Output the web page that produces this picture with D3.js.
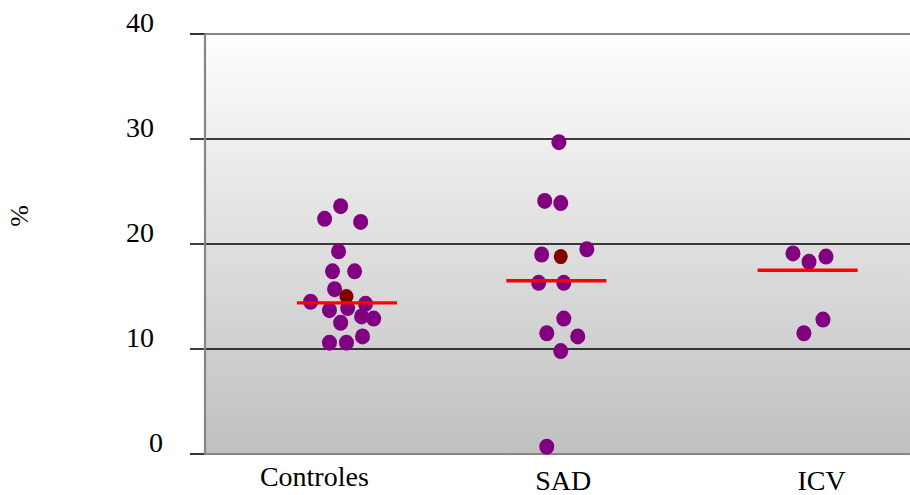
<!DOCTYPE html>
<html>
<head>
<meta charset="utf-8">
<script src="https://cdn.jsdelivr.net/npm/d3@7"></script>
<style>
  body { margin: 0; background: #fff; }
  svg { display: block; font-family: "Liberation Serif", "Times New Roman", serif; }
</style>
</head>
<body>
<div class="chart"></div>
<script>
// Data

var categories = ["Controles", "SAD", "ICV"];
var label_x = [0.87, 1.94, 3.05];

// individual values (x = jittered position, y = %)
var controles_x = [0.983, 0.914, 1.069, 0.974, 0.948, 1.043, 0.957, 0.854, 0.935, 1.013, 1.090, 1.073, 1.125, 0.983, 1.077, 0.935, 1.008];
var controles_y = [23.6, 22.4, 22.1, 19.3, 17.4, 17.4, 15.7, 14.5, 13.7, 13.9, 14.3, 13.1, 12.9, 12.5, 11.2, 10.6, 10.6];

var sad_x = [1.921, 1.860, 1.929, 1.847, 2.041, 1.834, 1.942, 1.942, 1.869, 2.002, 1.929, 1.869];
var sad_y = [29.7, 24.1, 23.9, 19.0, 19.5, 16.3, 16.3, 12.9, 11.5, 11.2, 9.8, 0.7];

var icv_x = [2.927, 2.996, 3.069, 3.056, 2.974];
var icv_y = [19.1, 18.3, 18.8, 12.8, 11.5];

// group means (dark points)
var mean_x = [1.008, 1.929];
var mean_y = [15.0, 18.8];

// group medians (red bars)
var median_x = [1.01, 1.91, 2.99];
var median_y = [14.4, 16.5, 17.5];

var y_ticks = [0, 10, 20, 30, 40];

// ---------------------------------------------------------

var width = 910;
var height = 495;
var margin = {top: 34, right: 0, bottom: 41, left: 205};

var svg = d3.select('.chart')
    .append('svg')
        .attr('width', width)
        .attr('height', height);

var x = d3.scaleLinear()
    .domain([0.4, 3.43])
    .range([margin.left, width - margin.right]);

var y = d3.scaleLinear()
    .domain([0, 40])
    .range([height - margin.bottom, margin.top]);

var grad = svg.append('defs').append('linearGradient')
    .attr('id', 'bg')
    .attr('x1', 0).attr('y1', 0).attr('x2', 0).attr('y2', 1);
grad.append('stop').attr('offset', '0%').attr('stop-color', '#fefefe');
grad.append('stop').attr('offset', '100%').attr('stop-color', '#c0c0c0');

svg.append('rect')
    .attr('x', margin.left)
    .attr('y', y(40))
    .attr('width', width - margin.left - margin.right)
    .attr('height', y(0) - y(40))
    .style('fill', 'url(#bg)');

// gridlines + ticks
svg.selectAll('.grid')
    .data(y_ticks.filter(function(d) { return d > 0 && d < 40; }))
    .enter()
    .append('line')
        .attr('class', 'grid')
        .attr('x1', margin.left - 15)
        .attr('x2', width)
        .attr('y1', function(d) { return y(d); })
        .attr('y2', function(d) { return y(d); })
        .style('stroke', '#000')
        .style('stroke-width', 1.6);

// top and bottom frame (gray)
svg.selectAll('.frame')
    .data([0, 40])
    .enter()
    .append('line')
        .attr('x1', margin.left)
        .attr('x2', width)
        .attr('y1', function(d) { return y(d); })
        .attr('y2', function(d) { return y(d); })
        .style('stroke', '#858585')
        .style('stroke-width', 2);

svg.selectAll('.endtick')
    .data([0, 40])
    .enter()
    .append('line')
        .attr('x1', margin.left - 15)
        .attr('x2', margin.left)
        .attr('y1', function(d) { return y(d); })
        .attr('y2', function(d) { return y(d); })
        .style('stroke', '#000')
        .style('stroke-width', 1.6);

svg.append('line')
    .attr('x1', margin.left)
    .attr('x2', margin.left)
    .attr('y1', y(40))
    .attr('y2', y(0) + 1)
    .style('stroke', '#858585')
    .style('stroke-width', 2.2);

// y tick labels
svg.selectAll('.ylabel')
    .data(y_ticks)
    .enter()
    .append('text')
        .attr('x', function(d) { return d === 0 ? 163 : 154; })
        .attr('y', function(d) { return y(d) - 2; })
        .attr('text-anchor', 'end')
        .style('font-size', '28px')
        .text(function(d) { return d; });

svg.append('text')
    .attr('transform', 'translate(28,216) rotate(-90)')
    .attr('text-anchor', 'middle')
    .style('font-size', '26px')
    .text('%');

// category labels
svg.selectAll('.xlabel')
    .data(categories)
    .enter()
    .append('text')
        .attr('x', function(d, i) { return x(label_x[i]); })
        .attr('y', function(d, i) { return i === 0 ? 486 : 490; })
        .attr('text-anchor', 'middle')
        .style('font-size', '28px')
        .text(function(d) { return d; });

// points
var points = [];
[[controles_x, controles_y], [sad_x, sad_y], [icv_x, icv_y]].forEach(function(g) {
    g[0].forEach(function(v, i) { points.push({x: v, y: g[1][i]}); });
});

svg.selectAll('.dot')
    .data(points)
    .enter()
    .append('ellipse')
        .attr('class', 'dot')
        .attr('cx', function(d) { return x(d.x); })
        .attr('cy', function(d) { return y(d.y); })
        .attr('rx', 7.5)
        .attr('ry', 8)
        .style('fill', '#800080');

svg.selectAll('.mean')
    .data(mean_x)
    .enter()
    .append('ellipse')
        .attr('cx', function(d) { return x(d); })
        .attr('cy', function(d, i) { return y(mean_y[i]); })
        .attr('rx', 7)
        .attr('ry', 7.5)
        .style('fill', '#800000');

svg.selectAll('.median')
    .data(median_x)
    .enter()
    .append('line')
        .attr('x1', function(d) { return x(d - 0.215); })
        .attr('x2', function(d) { return x(d + 0.215); })
        .attr('y1', function(d, i) { return y(median_y[i]); })
        .attr('y2', function(d, i) { return y(median_y[i]); })
        .style('stroke', '#ff0000')
        .style('stroke-width', 3.3);
</script>
</body>
</html>
